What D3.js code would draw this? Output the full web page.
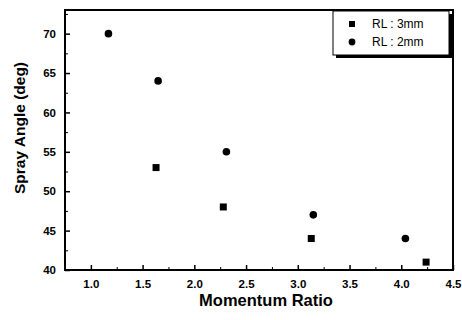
<!DOCTYPE html>
<meta charset="utf-8">
<style>
  body { margin: 0; background: #fff; }
  text { font-family: "Liberation Sans", Arial, sans-serif; font-weight: bold; }
</style>
<body>
<div id="chart"></div>
<script src="https://cdn.jsdelivr.net/npm/d3@7"></script>
<script>
  const seriesNames = ['RL : 3mm', 'RL : 2mm'];
  const rl3x = [1.63, 2.28, 3.13, 4.24];
  const rl3y = [53, 48, 44, 41];
  const rl2x = [1.17, 1.65, 2.31, 3.15, 4.04];
  const rl2y = [70, 64, 55, 47, 44];
  const xTicks = [1.0, 1.5, 2.0, 2.5, 3.0, 3.5, 4.0, 4.5];
  const yTicks = [40, 45, 50, 55, 60, 65, 70];

  const W = 462, H = 320;
  const m = { left: 65, right: 9, top: 10, bottom: 50 };

  const svg = d3.select('#chart').append('svg')
      .attr('width', W).attr('height', H);

  const x = d3.scaleLinear().domain([0.75, 4.5]).range([m.left, W - m.right]);
  const y = d3.scaleLinear().domain([40, 73]).range([H - m.bottom, m.top]);

  // minor ticks
  const xMinor = d3.range(0.75, 4.51, 0.25).filter(v => !xTicks.some(t => Math.abs(t - v) < 1e-6));
  const yMinor = d3.range(42.5, 73, 5);

  const g = svg.append('g');

  // x axis (ticks inward)
  const xAxis = g.append('g').attr('transform', `translate(0,${y(40)})`)
      .call(d3.axisBottom(x).tickValues(xTicks).tickFormat(d3.format('.1f'))
        .tickSizeInner(-5).tickSizeOuter(0).tickPadding(10));
  xAxis.selectAll('.tick line').attr('stroke-width', 1.5);
  g.append('g').attr('transform', `translate(0,${y(40)})`)
      .call(d3.axisBottom(x).tickValues(xMinor).tickFormat('').tickSizeInner(-3).tickSizeOuter(0))
      .call(s => s.select('.domain').remove());

  const yAxis = g.append('g').attr('transform', `translate(${x(0.75)},0)`)
      .call(d3.axisLeft(y).tickValues(yTicks).tickSizeInner(-5).tickSizeOuter(0).tickPadding(9));
  yAxis.selectAll('.tick line').attr('stroke-width', 1.5);
  g.append('g').attr('transform', `translate(${x(0.75)},0)`)
      .call(d3.axisLeft(y).tickValues(yMinor).tickFormat('').tickSizeInner(-3).tickSizeOuter(0))
      .call(s => s.select('.domain').remove());

  g.selectAll('.tick text').attr('font-size', 11.5).attr('fill', '#000')
      .style('font-family', '"Liberation Sans", Arial, sans-serif').style('font-weight', 'bold');
  g.selectAll('.domain').remove();

  // frame
  svg.append('rect')
      .attr('x', x(0.75)).attr('y', y(73))
      .attr('width', x(4.5) - x(0.75)).attr('height', y(40) - y(73))
      .attr('fill', 'none').attr('stroke', '#000').attr('stroke-width', 2);

  // data
  const sq = 7, rr = 3.8;
  svg.append('g').selectAll('rect').data(d3.zip(rl3x, rl3y)).join('rect')
      .attr('x', d => x(d[0]) - sq / 2).attr('y', d => y(d[1]) - sq / 2)
      .attr('width', sq).attr('height', sq).attr('fill', '#000');
  svg.append('g').selectAll('circle').data(d3.zip(rl2x, rl2y)).join('circle')
      .attr('cx', d => x(d[0])).attr('cy', d => y(d[1])).attr('r', rr).attr('fill', '#000');

  // legend
  const lg = svg.append('g').attr('transform', 'translate(333,11)');
  lg.append('rect').attr('x', 3).attr('y', 3).attr('width', 116).attr('height', 44).attr('fill', '#000');
  lg.append('rect').attr('x', 0).attr('y', 0).attr('width', 116).attr('height', 44)
      .attr('fill', '#fff').attr('stroke', '#000').attr('stroke-width', 1);
  seriesNames.forEach((name, i) => {
    const cy = 13 + i * 18;
    if (i === 0) {
      lg.append('rect').attr('x', 19 - 3).attr('y', cy - 3).attr('width', 6).attr('height', 6);
    } else {
      lg.append('circle').attr('cx', 19).attr('cy', cy).attr('r', 3.4);
    }
    lg.append('text').attr('x', 39).attr('y', cy).attr('dy', '0.35em')
        .attr('font-size', 12).style('font-weight', 'normal').text(name);
  });

  // axis titles
  svg.append('text').attr('x', (x(0.75) + x(4.5)) / 2 + 7).attr('y', 306)
      .attr('text-anchor', 'middle').attr('font-size', 16.5).text('Momentum Ratio');
  svg.append('text').attr('transform', `translate(25,${(y(40) + y(73)) / 2 - 12}) rotate(-90)`)
      .attr('text-anchor', 'middle').attr('font-size', 15.5).text('Spray Angle (deg)');
</script>
